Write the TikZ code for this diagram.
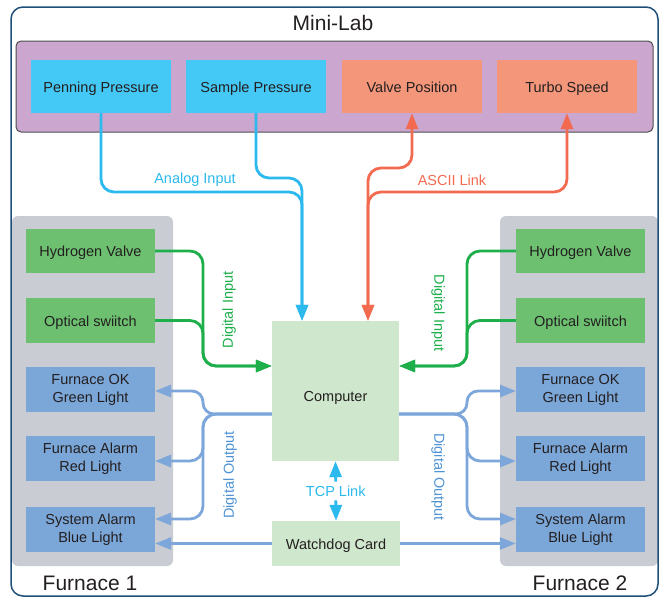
\documentclass[tikz,border=0pt]{standalone}
\usepackage{fontspec}
\setmainfont{Liberation Sans}
\usetikzlibrary{arrows.meta}

\definecolor{frameblue}{HTML}{1F4E79}
\definecolor{labfill}{HTML}{CBA6CE}
\definecolor{labedge}{HTML}{4D4D4D}
\definecolor{panelgray}{HTML}{C9CCD3}
\definecolor{cyanbox}{HTML}{44C8F5}
\definecolor{orgbox}{HTML}{F4967A}
\definecolor{grnbox}{HTML}{6CC070}
\definecolor{blubox}{HTML}{7BA6D8}
\definecolor{compfill}{HTML}{CFE7CC}
\definecolor{cyanline}{HTML}{2BB9EE}
\definecolor{orgline}{HTML}{F26A4F}
\definecolor{grnline}{HTML}{1EAF4B}
\definecolor{bluline}{HTML}{7DA7DA}
\definecolor{blutext}{HTML}{4F93D4}
\definecolor{boxtext}{HTML}{231F20}

\begin{document}
\begin{tikzpicture}[x=1pt,y=-1pt,
  box/.style={minimum width=140pt,minimum height=53pt,inner sep=0pt,text=boxtext,
    font=\fontsize{14.5}{18}\selectfont,text height=11pt,text depth=0pt},
  fbox/.style={box,minimum width=129pt,minimum height=45pt,align=center},
  mbox/.style={fbox,text height=,text depth=},
  lbl/.style={inner sep=1pt,font=\fontsize{14.5}{18}\selectfont},
  big/.style={inner sep=0pt,text=boxtext,font=\fontsize{21}{24}\selectfont},
  link/.style={line width=2.8pt,rounded corners=13pt},
  tip/.style={-{Triangle[length=16pt,width=12pt]}},
  tips/.style={{Triangle[length=16pt,width=12pt]}-{Triangle[length=16pt,width=12pt]}}]
\useasboundingbox (0,0) rectangle (660,597);

% panels and frame
\fill[panelgray,rounded corners=6pt] (12,216) rectangle (173,566);
\fill[panelgray,rounded corners=6pt] (500,216) rectangle (658,566);
\draw[frameblue,line width=1.5pt,rounded corners=12pt] (11,7) rectangle (658,596);
\filldraw[fill=labfill,draw=labedge,line width=1pt,rounded corners=5pt] (16,41) rectangle (653,132);

\node[big] (lab) at (333,23) {Mini-Lab};
\node[big] (fur1) at (90,583) {Furnace 1};
\node[big] (fur2) at (580,583) {Furnace 2};

% Mini-Lab signals
\node[box,fill=cyanbox] (pen) at (101,86.5) {Penning Pressure};
\node[box,fill=cyanbox] (smp) at (256,86.5) {Sample Pressure};
\node[box,fill=orgbox] (vlv) at (412,86.5) {Valve Position};
\node[box,fill=orgbox] (trb) at (567,86.5) {Turbo Speed};

% furnace 1
\node[fbox,fill=grnbox,minimum height=44pt] (hvL) at (90.5,251) {Hydrogen Valve};
\node[fbox,fill=grnbox] (osL) at (90.5,320.5) {Optical swiitch};
\node[fill=blubox,mbox] (fokL) at (90.5,389.5) {Furnace OK\\Green Light};
\node[fill=blubox,mbox] (faL) at (90.5,458.5) {Furnace Alarm\\Red Light};
\node[fill=blubox,mbox] (saL) at (90.5,529.5) {System Alarm\\Blue Light};

% furnace 2
\node[fbox,fill=grnbox,minimum height=44pt] (hvR) at (580.5,251) {Hydrogen Valve};
\node[fbox,fill=grnbox] (osR) at (580.5,320.5) {Optical swiitch};
\node[fill=blubox,mbox] (fokR) at (580.5,389.5) {Furnace OK\\Green Light};
\node[fill=blubox,mbox] (faR) at (580.5,458.5) {Furnace Alarm\\Red Light};
\node[fill=blubox,mbox] (saR) at (580.5,529.5) {System Alarm\\Blue Light};

\node[box,fill=compfill,minimum width=127pt,minimum height=140pt,text height=21pt] (comp) at (335.5,391) {Computer};
\node[box,fill=compfill,minimum width=128pt,minimum height=45pt] (wdc) at (336,543.5) {Watchdog Card};

% bends
\coordinate (anaA) at (302,192);
\coordinate (anaB) at (302,178);
\coordinate (ascA) at (368,168);
\coordinate (ascB) at (368,192);
\coordinate (jinL) at (203,366);
\coordinate (jinR) at (467,366);
\coordinate (joutL) at (203,414);
\coordinate (joutR) at (467,414);
\coordinate (fokLin) at (155,391);
\coordinate (fokRin) at (516,391);
\coordinate (faLin) at (155,461);
\coordinate (faRin) at (516,461);
\coordinate (saLin) at (155,519);
\coordinate (saRin) at (516,519);

% analog input
\draw[link,cyanline,tip] (pen.south) |- (anaA) -- (comp.north -| anaA);
\draw[link,cyanline,tip] (smp.south) |- (anaB) -- (comp.north -| anaB);

% ASCII link
\draw[link,orgline,tips] (comp.north -| ascA) -- (ascA) -| (vlv.south);
\draw[link,orgline,tips] (comp.north -| ascB) -- (ascB) -| (trb.south);

% digital input
\draw[link,grnline,tip] (hvL.east) -- (hvL.east -| jinL) -- (jinL) -- (comp.west |- jinL);
\draw[link,grnline,tip] (osL.east) -- (osL.east -| jinL) -- (jinL) -- (comp.west |- jinL);
\draw[link,grnline,tip] (hvR.west) -- (hvR.west -| jinR) -- (jinR) -- (comp.east |- jinR);
\draw[link,grnline,tip] (osR.west) -- (osR.west -| jinR) -- (jinR) -- (comp.east |- jinR);

% digital output
\draw[link,bluline,tip,rounded corners=11pt] (comp.west |- joutL) -- (joutL) -- (joutL |- fokLin) -- (fokLin);
\draw[link,bluline,tip] (comp.west |- joutL) -- (joutL) -- (joutL |- faLin) -- (faLin);
\draw[link,bluline,tip] (comp.west |- joutL) -- (joutL) -- (joutL |- saLin) -- (saLin);
\draw[link,bluline,tip,rounded corners=11pt] (comp.east |- joutR) -- (joutR) -- (joutR |- fokRin) -- (fokRin);
\draw[link,bluline,tip] (comp.east |- joutR) -- (joutR) -- (joutR |- faRin) -- (faRin);
\draw[link,bluline,tip] (comp.east |- joutR) -- (joutR) -- (joutR |- saRin) -- (saRin);
\draw[link,bluline,tip] (wdc.west) -- (wdc.west -| saL.east);
\draw[link,bluline,tip] (wdc.east) -- (wdc.east -| saR.west);

% TCP link
\draw[link,cyanline,tips] (comp.south) -- (wdc.north)
  node[lbl,midway,fill=white,text=cyanline,inner ysep=4pt] (tcp) {TCP Link};

% labels
\node[lbl,text=cyanline] (anaT) at (195,180) {Analog Input};
\node[lbl,text=orgline] (ascT) at (452,180) {ASCII Link};
\node[lbl,text=grnline,rotate=90] (dinL) at (229,310) {Digital Input};
\node[lbl,text=grnline,rotate=-90] (dinR) at (438,313) {Digital Input};
\node[lbl,text=blutext,rotate=90] (doutL) at (230,475) {Digital Output};
\node[lbl,text=blutext,rotate=-90] (doutR) at (438,477) {Digital Output};
\end{tikzpicture}
\end{document}
